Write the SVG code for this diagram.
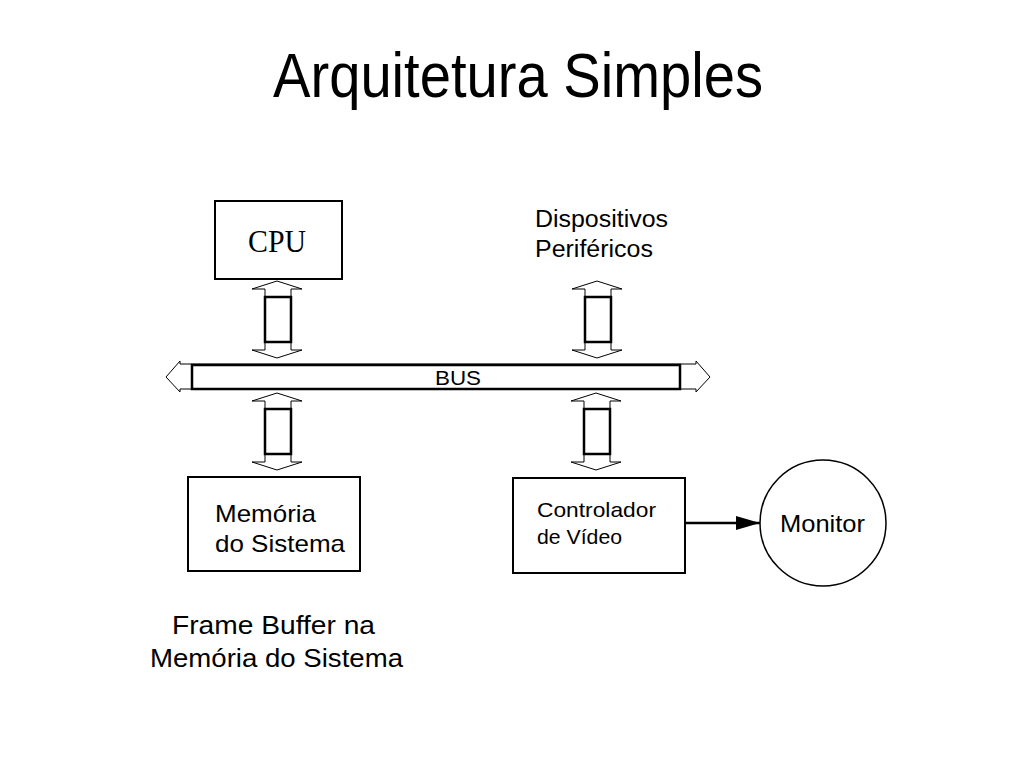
<svg xmlns="http://www.w3.org/2000/svg" width="1024" height="768" viewBox="0 0 1024 768">
<style>
text{font-family:"Liberation Sans",Arial,sans-serif;fill:#000}
.box{fill:#fff;stroke:#000;stroke-width:2}
.ah{fill:#fff;stroke:#000;stroke-width:1}
.body{fill:#fff;stroke:#000;stroke-width:2.5}
</style>
<defs>
<marker id="tri" markerWidth="24" markerHeight="14" refX="24" refY="7" orient="auto" markerUnits="userSpaceOnUse" viewBox="0 0 24 14"><path d="M0,0 L24,7 L0,14 z" fill="#000"/></marker>
<g id="darrow">
<polygon class="ah" points="0,0 25,8 14,8 14,69 25,69 0,77 -25,69 -12,69 -12,8 -25,8"/>
<rect class="body" x="-12" y="16" width="26" height="45"/>
</g>
</defs>
<rect width="1024" height="768" fill="#fff"/>
<text x="273" y="97" font-size="63" textLength="490" lengthAdjust="spacingAndGlyphs">Arquitetura Simples</text>
<g id="connectors">
<use href="#darrow" x="277" y="281"/>
<use href="#darrow" x="597" y="281"/>
<use href="#darrow" x="277" y="393"/>
<use href="#darrow" x="596" y="393"/>
<g id="bus">
<polygon class="ah" points="166,377 180,361 180,364 696,364 696,361 710,377 696,392 696,389 180,389 180,392"/>
<rect class="body" x="192" y="365" width="488" height="24"/>
<text x="435" y="385" font-size="21" textLength="46" lengthAdjust="spacingAndGlyphs">BUS</text>
</g>
<line x1="685" y1="523" x2="760" y2="523" stroke="#000" stroke-width="2.5" marker-end="url(#tri)"/>
</g>
<g id="cpu">
<rect class="box" x="215" y="201" width="127" height="78"/>
<text x="248" y="252" font-size="31" textLength="58" lengthAdjust="spacingAndGlyphs" style="font-family:'Liberation Serif','Times New Roman',serif">CPU</text>
</g>
<g id="perifericos">
<text x="535" y="227" font-size="23" textLength="133" lengthAdjust="spacingAndGlyphs">Dispositivos</text>
<text x="535" y="257" font-size="23" textLength="118" lengthAdjust="spacingAndGlyphs">Periféricos</text>
</g>
<g id="memoria">
<rect class="box" x="188" y="477" width="172" height="94"/>
<text x="215" y="522" font-size="24" textLength="101" lengthAdjust="spacingAndGlyphs">Memória</text>
<text x="215" y="552" font-size="24" textLength="130" lengthAdjust="spacingAndGlyphs">do Sistema</text>
</g>
<g id="video">
<rect class="box" x="513" y="478" width="172" height="95"/>
<text x="537" y="517" font-size="21" textLength="119" lengthAdjust="spacingAndGlyphs">Controlador</text>
<text x="537" y="544" font-size="21" textLength="85" lengthAdjust="spacingAndGlyphs">de Vídeo</text>
</g>
<g id="monitor">
<circle cx="823" cy="523" r="63" fill="#fff" stroke="#000" stroke-width="1.5"/>
<text x="780" y="532" font-size="24" textLength="85" lengthAdjust="spacingAndGlyphs">Monitor</text>
</g>
<g id="framebuffer">
<text x="172" y="634" font-size="25" textLength="203" lengthAdjust="spacingAndGlyphs">Frame Buffer na</text>
<text x="150" y="667" font-size="25" textLength="253" lengthAdjust="spacingAndGlyphs">Memória do Sistema</text>
</g>
</svg>
